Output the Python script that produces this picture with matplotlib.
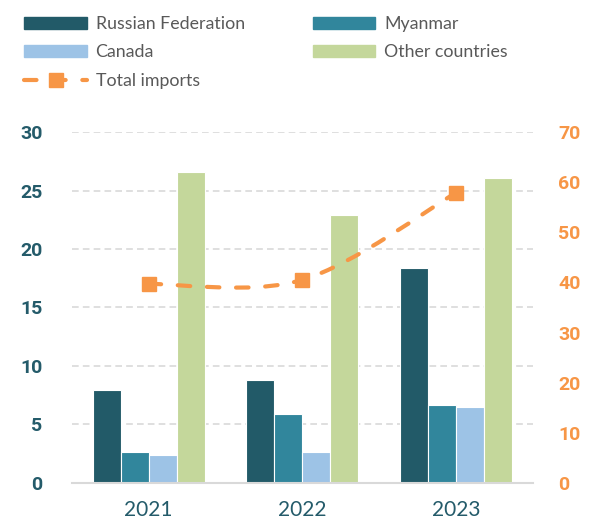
import numpy as np
import matplotlib.pyplot as plt
from matplotlib.path import Path
from matplotlib.patches import PathPatch, Patch
from matplotlib.lines import Line2D

plt.rcParams['font.family'] = ['Lato', 'DejaVu Sans']

# data
years = ['2021', '2022', '2023']
russia = [7.95, 8.8, 18.4]
myanmar = [2.6, 5.85, 6.7]
canada = [2.4, 2.65, 6.5]
other = [26.6, 22.9, 26.1]
total = [39.7, 40.5, 57.9]
left_ticks = [0, 5, 10, 15, 20, 25, 30]
right_ticks = [0, 10, 20, 30, 40, 50, 60, 70]

series_names = ['Russian Federation', 'Myanmar', 'Canada', 'Other countries']
series_vals = [russia, myanmar, canada, other]
colors = ['#225A68', '#31869C', '#9DC3E6', '#C4D79B']
orange = '#F79646'
teal_txt = '#245B6A'

fig = plt.figure(figsize=(6.03, 5.22), dpi=100)
ax = fig.add_axes([0.119, 0.075, 0.765, 0.672])

x = np.arange(len(years))
w = 0.182
for i, (name, vals, c) in enumerate(zip(series_names, series_vals, colors)):
    ax.bar(x + (i - 1.5) * w, vals, w, color=c, edgecolor='white', linewidth=0.8, label=name, zorder=2)

ax.set_xlim(-0.5, 2.5)
ax.set_ylim(0, 30)
ax.set_yticks(left_ticks)
ax.set_yticklabels([str(v) for v in left_ticks], family='Roboto', fontweight='bold',
                   fontsize=14, color=teal_txt)
ax.set_xticks(x)
ax.set_xticklabels(years, fontsize=15, color=teal_txt)
ax.yaxis.grid(True, color='#D9D9D9', linestyle=(0, (4, 2.5)), linewidth=1.2)
ax.set_axisbelow(True)
for s in ['top', 'right', 'left']:
    ax.spines[s].set_visible(False)
ax.spines['bottom'].set_color('#D9D9D9')
ax.spines['bottom'].set_linewidth(1.5)
ax.tick_params(axis='y', length=0, pad=21)
ax.tick_params(axis='x', length=0, pad=12)

# secondary axis with smoothed line (bezier through data points)
ax2 = ax.twinx()
ax2.set_ylim(0, 70)
ax2.set_yticks(right_ticks)
ax2.set_yticklabels([str(v) for v in right_ticks], family='Roboto', fontweight='bold',
                    fontsize=14, color=orange)
for s in ax2.spines.values():
    s.set_visible(False)
ax2.tick_params(axis='y', length=0, pad=18)

pts = np.column_stack([x, total]).astype(float)
ext = np.vstack([pts[0], pts, pts[-1]])
verts = [pts[0]]
codes = [Path.MOVETO]
for i in range(len(pts) - 1):
    p0, p1, p2, p3 = ext[i], ext[i + 1], ext[i + 2], ext[i + 3]
    verts += [p1 + (p2 - p0) / 6, p2 - (p3 - p1) / 6, p2]
    codes += [Path.CURVE4] * 3
curve = PathPatch(Path(verts, codes), facecolor='none', edgecolor=orange, linewidth=3,
                  linestyle=(0, (3, 4)), capstyle='round', zorder=3)
ax2.add_patch(curve)
ax2.plot(x, total, linestyle='none', marker='s', markersize=10, color=orange, zorder=4)

# legend
handles = [Patch(color=c) for c in colors]
line_h = Line2D([], [], color=orange, linewidth=3, linestyle=(0, (3, 4)), dash_capstyle='round',
                marker='s', markersize=10)
order = [handles[0], handles[2], line_h, handles[1], handles[3]]
labels = [series_names[0], series_names[2], 'Total imports', series_names[1], series_names[3]]
leg = fig.legend(order, labels, ncol=2, loc='upper left', bbox_to_anchor=(0.014, 1.0),
                 frameon=False, fontsize=12.8, handlelength=3.5, handleheight=0.65,
                 handletextpad=0.5, columnspacing=3.85, labelspacing=0.7, numpoints=1)
for t in leg.get_texts():
    t.set_color('#595959')

fig.savefig('out.png', dpi=100)
